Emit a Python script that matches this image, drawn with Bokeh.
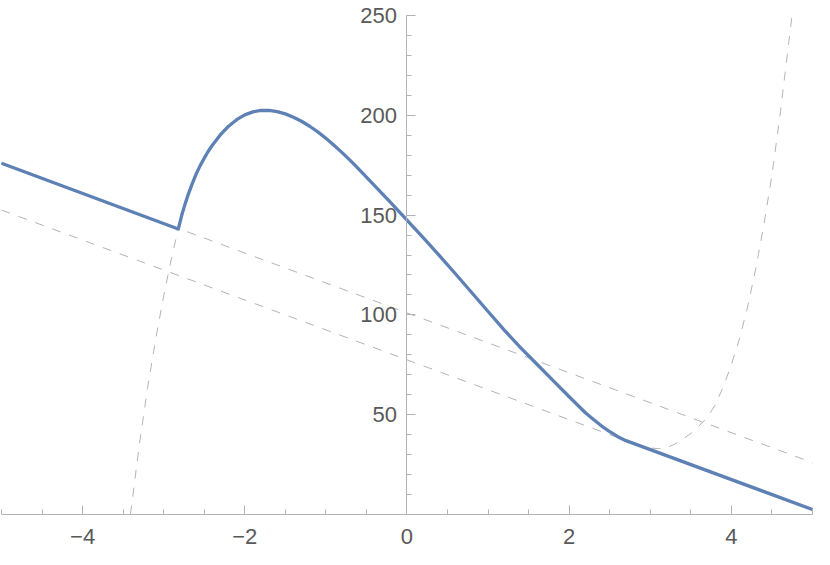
from bokeh.plotting import figure
from bokeh.models import LinearAxis, FixedTicker, Range1d
from bokeh.embed import file_html
from bokeh.resources import INLINE

# ---- data ----
# thick blue piecewise curve: left straight part, smooth hump, right straight part
blue_x = [-5.0, -2.82, -2.78, -2.74, -2.70, -2.65, -2.60, -2.55, -2.50, -2.45,
          -2.40, -2.30, -2.20, -2.10, -2.00, -1.90, -1.80, -1.70, -1.60, -1.50,
          -1.40, -1.30, -1.20, -1.10, -1.00, -0.90, -0.80, -0.70, -0.60, -0.50,
          -0.40, -0.30, -0.20, -0.10, 0.00, 0.20, 0.40, 0.60, 0.80, 1.00,
          1.20, 1.40, 1.60, 1.80, 2.00, 2.10, 2.20, 2.30, 2.40, 2.50,
          2.60, 2.70, 2.80, 5.00]
blue_y = [176.0, 143.0, 149.5, 155.0, 160.0, 165.5, 170.5, 174.8, 178.5, 182.0,
          185.0, 190.3, 194.5, 197.8, 200.2, 201.7, 202.4, 202.4, 201.8, 200.7,
          199.0, 197.0, 194.5, 191.7, 188.5, 185.0, 181.3, 177.4, 173.3, 169.0,
          164.8, 160.5, 156.2, 151.8, 147.5, 138.7, 129.7, 120.5, 111.1, 101.7,
          92.4, 83.6, 75.4, 67.2, 59.0, 55.0, 51.0, 47.6, 44.3, 41.5,
          39.0, 37.0, 35.5, 2.5]

# dashed continuation of the hump function (left and right)
ext_left_x = [-3.41, -3.40, -3.30, -3.20, -3.10, -3.00, -2.90, -2.82]
ext_left_y = [0.0, 3.0, 35.0, 63.0, 87.5, 109.5, 129.0, 143.0]
ext_right_x = [2.80, 2.90, 3.00, 3.10, 3.20, 3.30, 3.40, 3.50, 3.60, 3.70,
               3.80, 3.90, 4.00, 4.10, 4.20, 4.30, 4.40, 4.50, 4.60, 4.70, 4.748]
ext_right_y = [35.5, 34.2, 33.3, 33.0, 33.5, 35.2, 37.8, 40.6, 44.3, 48.5,
               54.8, 64.0, 75.0, 88.0, 104.0, 123.0, 145.0, 170.0, 200.0, 234.0, 250.0]

# dashed straight lines
upper_x = [-5.0, 5.0]
upper_y = [176.0, 26.0]
lower_x = [-5.0, 5.0]
lower_y = [152.5, 2.5]

# ticks
x_ticks = [-4, -2, 0, 2, 4]
x_labels = ["\u22124", "\u22122", "0", "2", "4"]
x_minor = [-5 + 0.5 * i for i in range(21)]
y_ticks = [50, 100, 150, 200, 250]
y_minor = [10 * i for i in range(1, 26)]

AX = "#b3b3b3"
DASH = "#b4b4b4"
BLUE = "#5E81B5"
LBL = "#595959"
FONT = "Liberation Sans"

p = figure(width=814, height=549, output_backend="svg", toolbar_location=None,
           x_range=Range1d(-5.012, 5.025), y_range=Range1d(-17.53, 257.5),
           x_axis_location=None, y_axis_location=None, min_border=0)
p.outline_line_color = None
p.grid.visible = False

# dashed helper curves
for xs, ys in ((upper_x, upper_y), (lower_x, lower_y),
               (ext_left_x, ext_left_y), (ext_right_x, ext_right_y)):
    p.line(xs, ys, line_color=DASH, line_width=1, line_dash="9 9")

# main curve
p.line(blue_x, blue_y, line_color=BLUE, line_width=3.3, line_join="round")

# axes crossing at the origin
xaxis = LinearAxis(fixed_location=0, bounds=(-5, 5),
                   ticker=FixedTicker(ticks=x_ticks, minor_ticks=x_minor))
xaxis.major_label_overrides = {t: s for t, s in zip(x_ticks, x_labels)}
yaxis = LinearAxis(fixed_location=0, bounds=(0, 250),
                   ticker=FixedTicker(ticks=y_ticks, minor_ticks=y_minor))
for ax in (xaxis, yaxis):
    ax.axis_line_color = AX
    ax.axis_line_width = 1
    ax.major_tick_line_color = AX
    ax.minor_tick_line_color = AX
    ax.major_tick_in = 9
    ax.major_tick_out = 0
    ax.minor_tick_in = 5
    ax.minor_tick_out = 0
    ax.major_label_text_color = LBL
    ax.major_label_text_font = FONT
    ax.major_label_text_font_size = "22px"
xaxis.major_label_standoff = 14
yaxis.major_label_standoff = 10
p.add_layout(xaxis, "below")
p.add_layout(yaxis, "left")

open("out.html", "w").write(file_html(p, INLINE))
